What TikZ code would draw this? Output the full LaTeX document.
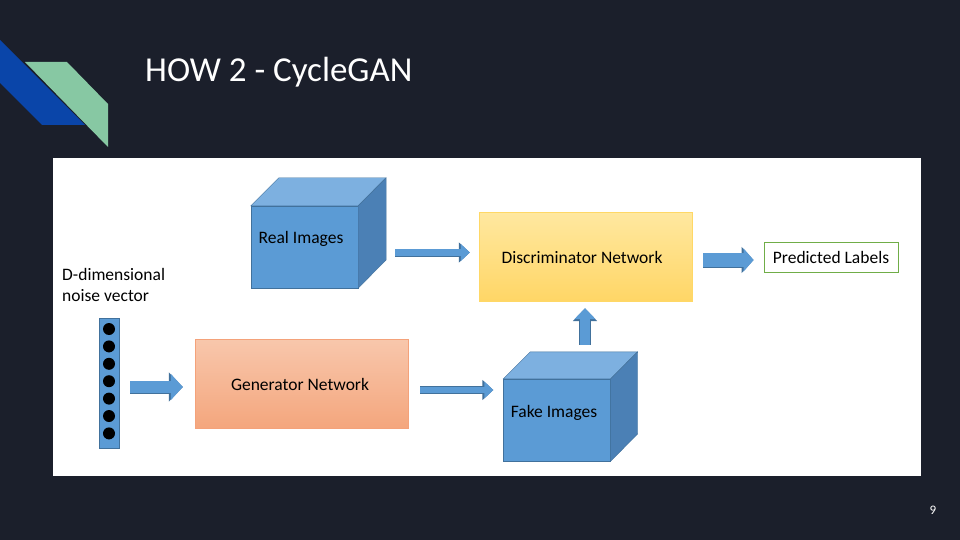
\documentclass[tikz,border=0pt]{standalone}
\usepackage{fontspec}
\setmainfont{Carlito}
\usepackage{xcolor}
\usetikzlibrary{arrows.meta}
\definecolor{slidebg}{HTML}{1B1F2B}
\definecolor{stripeblue}{HTML}{0A45A9}
\definecolor{stripegreen}{HTML}{87C8A3}
\definecolor{cubefront}{HTML}{5B9BD5}
\definecolor{cubetop}{HTML}{7DB0E0}
\definecolor{cubeside}{HTML}{4B80B5}
\definecolor{cubeedge}{HTML}{41719C}
\definecolor{disctop}{HTML}{FFE8A0}
\definecolor{discbottom}{HTML}{FFD666}
\definecolor{discedge}{HTML}{FFD866}
\definecolor{gentop}{HTML}{F8C7AC}
\definecolor{genbottom}{HTML}{F4A67D}
\definecolor{genedge}{HTML}{F4A27A}
\definecolor{labeledge}{HTML}{70AD47}

\tikzset{
  face/.style={draw=cubeedge, fill=cubefront, minimum width=107pt, minimum height=82pt, inner sep=0pt},
  body/.style={font=\fontsize{17.5}{21}\selectfont, text=black},
  flow/.style n args={3}{draw=cubeedge, line width=#1+1pt,
    -{Triangle[width=#2+1.6pt,length=#3+1pt]},
    postaction={draw=cubefront, line width=#1-0.6pt,
      -{Triangle[width=#2-1.4pt,length=#3-1pt]}}}
}

\begin{document}
\begin{tikzpicture}[x=1pt,y=-1pt]
\useasboundingbox (0,0) rectangle (960,540);
\fill[slidebg] (0,0) rectangle (960,540);

% corner stripes
\fill[stripeblue] (0,40) -- (85,125) -- (42,125) -- (0,83) -- cycle;
\fill[stripegreen] (25,62) -- (67,62) -- (108,104) -- (108,147) -- cycle;
\node[anchor=base west, inner sep=0pt, text=white, font=\fontsize{35}{40}\selectfont] (title) at (145,82) {HOW 2 - CycleGAN};

% white panel
\fill[white] (53,158) rectangle (921,476);

% real images cube
\node[face] (real) at (304.5,247) {};
\filldraw[draw=cubeedge, fill=cubetop] (real.north west) -- ++(28,-28) -- ++(107,0) -- (real.north east) -- cycle;
\filldraw[draw=cubeedge, fill=cubeside] (real.north east) -- ++(28,-28) -- ++(0,82) -- (real.south east) -- cycle;
\node[body] (realtxt) at (301,239) {Real Images};

% fake images cube
\node[face] (fake) at (557,420) {};
\filldraw[draw=cubeedge, fill=cubetop] (fake.north west) -- ++(27,-27) -- ++(107,0) -- (fake.north east) -- cycle;
\filldraw[draw=cubeedge, fill=cubeside] (fake.north east) -- ++(27,-27) -- ++(0,82) -- (fake.south east) -- cycle;
\node[body] (faketxt) at (554,413) {Fake Images};

% networks
\node[draw=discedge, top color=disctop, bottom color=discbottom,
  minimum width=213pt, minimum height=89pt] (disc) at (585.5,256.5) {};
\node[body] (disctxt) at (582,257) {Discriminator Network};
\node[draw=genedge, top color=gentop, bottom color=genbottom,
  minimum width=213pt, minimum height=89pt] (gen) at (301.5,383.5) {};
\node[body] (gentxt) at (300,384) {Generator Network};
\node[draw=labeledge, line width=0.9pt, minimum width=134pt, minimum height=30pt, body] (pred) at (831,257) {Predicted Labels};

% noise vector
\node[draw=cubeedge, fill=cubefront, minimum width=20pt, minimum height=130pt, inner sep=0pt] (noise) at (109,383) {};
\foreach \k in {0,...,6}
  \fill[black] (109,329+\k*17.4) circle (6);
\node[body, align=left, anchor=north west, inner sep=0pt] (noisetxt) at (62,268) {D-dimensional\\noise vector};

% connectors
\draw[flow={7pt}{18pt}{10pt}, shorten <=37pt, shorten >=9pt] (real.east |- 0,252.5) -- (disc.west |- 0,252.5);
\draw[flow={14pt}{24pt}{11pt}, shorten <=11pt, shorten >=10pt] (disc.east |- 0,260) -- (pred.west |- 0,260);
\draw[flow={12pt}{27pt}{13pt}, shorten <=11pt, shorten >=12pt] (noise.east |- 0,387) -- (gen.west |- 0,387);
\draw[flow={7pt}{18pt}{10pt}, shorten <=12pt, shorten >=10pt] (gen.east |- 0,390) -- (fake.west |- 0,390);
\draw[flow={11pt}{22pt}{12pt}, shorten <=34pt, shorten >=7pt] (fake.north -| 585,0) -- (disc.south -| 585,0);

\node[text=white, font=\fontsize{13}{15}\selectfont] (page) at (933,510) {9};
\end{tikzpicture}
\end{document}
